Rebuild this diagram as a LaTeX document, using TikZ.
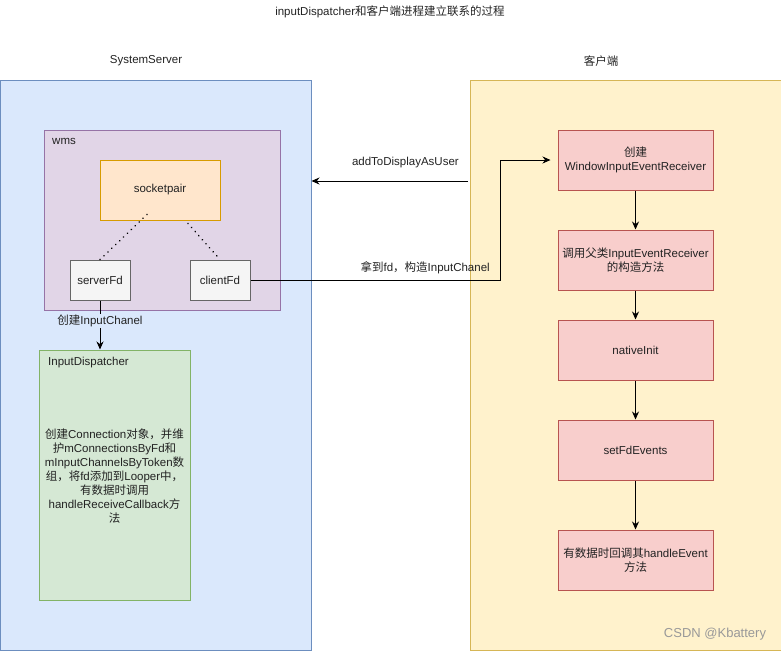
\documentclass[tikz,border=0pt]{standalone}
\usepackage{fontspec}
\setmainfont{Liberation Sans}
\newfontfamily\cjk{Noto Sans CJK SC}
\newcommand\zh[1]{{\cjk #1}}
\usetikzlibrary{arrows.meta}

\definecolor{sysfill}{HTML}{DAE8FC}
\definecolor{sysline}{HTML}{6C8EBF}
\definecolor{clifill}{HTML}{FFF2CC}
\definecolor{cliline}{HTML}{D6B656}
\definecolor{wmsfill}{HTML}{E1D5E7}
\definecolor{wmsline}{HTML}{9673A6}
\definecolor{sockfill}{HTML}{FFE6CC}
\definecolor{sockline}{HTML}{D79B00}
\definecolor{fdfill}{HTML}{F5F5F5}
\definecolor{fdline}{HTML}{666666}
\definecolor{dispfill}{HTML}{D5E8D4}
\definecolor{displine}{HTML}{82B366}
\definecolor{stepfill}{HTML}{F8CECC}
\definecolor{stepline}{HTML}{B85450}
\definecolor{txt}{HTML}{222222}

\tikzset{
  every node/.style={font=\fontsize{11.5}{14}\selectfont, text=txt},
  area/.style={draw=#1line, fill=#1fill, line width=1pt, inner sep=0pt},
  stepbox/.style={draw=stepline, fill=stepfill, line width=1pt,
    minimum width=155pt, minimum height=60pt, align=center, inner sep=1pt},
  fdbox/.style={draw=fdline, fill=fdfill, line width=1pt,
    minimum width=60pt, minimum height=40pt},
  arr/.style={-{Stealth[length=8pt,width=7pt]}, line width=1pt},
  dots/.style={line width=1.8pt, dash pattern=on 0.01pt off 5.4pt, line cap=round},
}

\begin{document}
\begin{tikzpicture}[x=1pt,y=-1pt]
\useasboundingbox (0,0) rectangle (781,651);

% titles
\node (title) at (390,12) {inputDispatcher\zh{和客户端进程建立联系的过程}};
\node (syslabel) at (146,61) {SystemServer};
\node (clilabel) at (601,61) {\zh{客户端}};

% SystemServer side
\node[area=sys, minimum width=311pt, minimum height=570pt] (sys) at (155.5,365) {};
\node[area=wms, minimum width=236pt, minimum height=180pt] (wms) at (162,220) {};
\node[anchor=north west, inner sep=0pt] (wmslabel) at (52,138) {wms};
\node[area=sock, minimum width=120pt, minimum height=60pt] (sock) at (160,190) {socketpair};
\node[fdbox] (sfd) at (100,280) {serverFd};
\node[fdbox] (cfd) at (220,280) {clientFd};
\node[area=disp, minimum width=151pt, minimum height=250pt] (disp) at (114.5,475) {};
\node[anchor=north west, inner sep=0pt] (displabel) at (48,357) {InputDispatcher};
\node[align=center, inner sep=0pt] (disptext) at (114.5,476) {%
  \zh{创建}Connection\zh{对象，并维}\\
  \zh{护}mConnectionsByFd\zh{和}\\
  mInputChannelsByToken\zh{数}\\
  \zh{组，将}fd\zh{添加到}Looper\zh{中，}\\
  \zh{有数据时调用}\\
  handleReceiveCallback\zh{方}\\
  \zh{法}};

% client side
\node[area=cli, minimum width=311pt, minimum height=570pt] (cli) at (625.5,365) {};
\node[stepbox] (r1) at (635.5,160) {\zh{创建}\\WindowInputEventReceiver};
\node[stepbox] (r2) at (635.5,260) {\zh{调用父类}InputEventReceiver\\\zh{的构造方法}};
\node[stepbox] (r3) at (635.5,350) {nativeInit};
\node[stepbox] (r4) at (635.5,450) {setFdEvents};
\node[stepbox] (r5) at (635.5,560) {\zh{有数据时回调其}handleEvent\\\zh{方法}};

% connectors
\draw[dots] ([xshift=-13pt,yshift=6pt]sock.south) -- (sfd.north);
\draw[dots] ([xshift=28pt,yshift=-3pt]sock.south) -- (cfd.north);
\draw[arr] (sfd.south) -- node[fill=sysfill, inner sep=1pt, yshift=4pt] {\zh{创建}InputChanel} (sfd.south |- disp.north);
\coordinate (turn) at (500,280);
\draw[arr, shorten >=7pt] (cfd.east) -- node[above, pos=0.7, yshift=2pt] {\zh{拿到}fd\zh{，构造}InputChanel} (turn) |- (r1.west);
\coordinate (callpt) at (468,181);
\draw[arr] (callpt) -- node[above, pos=0.4, yshift=9pt] {addToDisplayAsUser} (callpt -| sys.east);
\draw[arr] (r1) -- (r2);
\draw[arr] (r2) -- (r3);
\draw[arr] (r3) -- (r4);
\draw[arr] (r4) -- (r5);

\node[text=black!40, font=\fontsize{13}{15}\selectfont] (mark) at (715,634) {CSDN @Kbattery};
\end{tikzpicture}
\end{document}
